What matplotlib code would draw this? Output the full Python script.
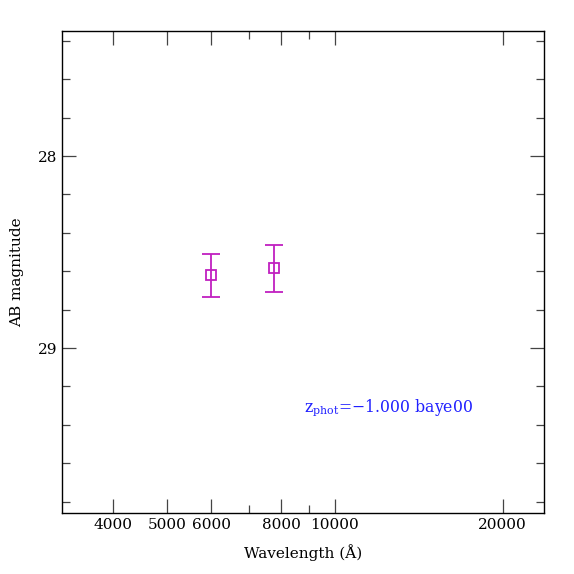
import matplotlib
matplotlib.use('Agg')
import matplotlib.pyplot as plt
from matplotlib.ticker import FixedLocator, NullFormatter, FixedFormatter

# photometry points
wave = [5981, 7762]
mag = [28.622, 28.585]
mag_err = [0.110, 0.121]

xticks_major = [4000, 5000, 6000, 8000, 10000, 20000]
xtick_labels = ['4000', '5000', '6000', '8000', '10000', '20000']
xticks_minor = [7000, 9000]
yticks_major = [28, 29]
yticks_minor = [27.4, 27.6, 27.8, 28.2, 28.4, 28.6, 28.8, 29.2, 29.4, 29.6, 29.8]

plt.rcParams['font.family'] = ['DejaVu Serif']
plt.rcParams['mathtext.fontset'] = 'dejavuserif'

fig = plt.figure(figsize=(5.74, 5.74), dpi=100)
ax = fig.add_axes([0.108, 0.1063, 0.8397, 0.8397])

col = '#c020c0'
ax.errorbar(wave, mag, yerr=mag_err, fmt='s', mfc='none', mec=col, ecolor=col,
            ms=7.2, mew=1.3, elinewidth=1.3, capsize=6.5, capthick=1.3)

ax.set_xscale('log')
ax.set_xlim(3236, 23730)
ax.set_ylim(29.859, 27.349)

ax.xaxis.set_major_locator(FixedLocator(xticks_major))
ax.xaxis.set_major_formatter(FixedFormatter(xtick_labels))
ax.xaxis.set_minor_locator(FixedLocator(xticks_minor))
ax.xaxis.set_minor_formatter(NullFormatter())
ax.yaxis.set_major_locator(FixedLocator(yticks_major))
ax.yaxis.set_minor_locator(FixedLocator(yticks_minor))

ax.tick_params(which='both', direction='in', top=True, right=True, labelsize=11,
               color='#444444')
ax.tick_params(which='major', length=10, width=0.9)
ax.tick_params(which='minor', length=5.5, width=0.9)
for s in ax.spines.values():
    s.set_linewidth(1.0)

ax.set_xlabel('Wavelength (Å)', fontsize=11, labelpad=9)
ax.set_ylabel('AB magnitude', fontsize=11, labelpad=10)

ax.text(0.502, 0.210, r'z$_{\rm phot}$=−1.000 baye00', transform=ax.transAxes,
        color='#2020ff', fontsize=11.3)

fig.savefig('out.png', dpi=100)
